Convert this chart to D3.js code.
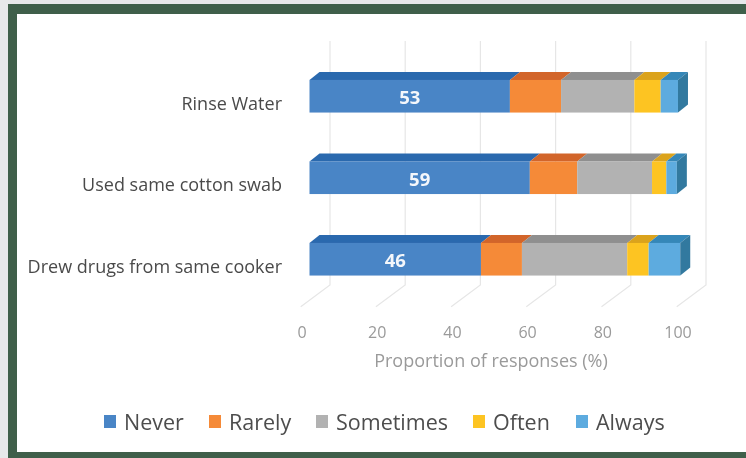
<!DOCTYPE html>
<html>
<head>
<meta charset="utf-8">
<script src="https://cdn.jsdelivr.net/npm/d3@7"></script>
<style>
  html, body { margin: 0; padding: 0; background: #e7e8ea; }
  svg { display: block; }
  text { font-family: "Open Sans", Lato, sans-serif; }
</style>
</head>
<body>
<svg id="chart" width="746" height="458"></svg>
<script>
const categories = ['Rinse Water', 'Used same cotton swab', 'Drew drugs from same cooker'];
const responses = ['Never', 'Rarely', 'Sometimes', 'Often', 'Always'];
const never = [53.3, 58.6, 45.6];
const rarely = [13.6, 12.6, 10.9];
const sometimes = [19.5, 19.9, 28.0];
const often = [7.0, 3.8, 5.7];
const always = [4.6, 2.8, 8.4];
const xTicks = [0, 20, 40, 60, 80, 100];

const frontColors = ['#4a85c6', '#f58a38', '#b2b2b2', '#fdc423', '#5dabdf'];
const topColors = ['#2c69ae', '#d2652a', '#8f8f8f', '#dba31c', '#3587b8'];
const sideColor = '#33799f';

const rows = categories.map((c, i) => ({
  category: c,
  values: [never[i], rarely[i], sometimes[i], often[i], always[i]]
}));

const svg = d3.select('#chart');

// picture frame, open on the right where the source is cropped
svg.append('rect').attr('x', 8).attr('y', 4).attr('width', 738).attr('height', 454).attr('fill', '#3f5f4a');
svg.append('rect').attr('x', 17).attr('y', 14).attr('width', 729).attr('height', 438).attr('fill', '#ffffff');

// the source is a soft, upscaled image
const defs = svg.append('defs');
defs.append('filter').attr('id', 'soft')
  .append('feGaussianBlur').attr('stdDeviation', 0.7);

const g = svg.append('g').attr('filter', 'url(#soft)');

const xScale = d3.scaleLinear().domain([0, 100]).range([309.5, 685.5]);
const yScale = d3.scaleBand().domain(categories).range([55.5, 300]).paddingInner(0.6).paddingOuter(0.3);

// pseudo 3d offsets
const barDx = 10, barDy = -8;
const wallDx = 20.5, wallFloorY = 285, wallTopY = 41;
const floorDx = -29.3, floorDy = 21.7;

const grid = g.append('g');
xTicks.forEach(t => {
  const x = xScale(t) + wallDx;
  grid.append('path')
    .attr('d', `M${x},${wallTopY}V${wallFloorY}l${floorDx},${floorDy}`)
    .attr('fill', 'none')
    .attr('stroke', '#e6e6e6')
    .attr('stroke-width', 1.2);
});

rows.forEach(row => {
  const y0 = yScale(row.category);
  const h = yScale.bandwidth();
  const starts = d3.cumsum(row.values);
  const bar = g.append('g');
  row.values.forEach((v, i) => {
    const xa = xScale(starts[i] - v);
    const xb = xScale(starts[i]);
    bar.append('path')
      .attr('d', `M${xa},${y0}l${barDx},${barDy}H${xb + barDx}L${xb},${y0}Z`)
      .attr('fill', topColors[i]);
    bar.append('rect')
      .attr('x', xa).attr('y', y0)
      .attr('width', xb - xa).attr('height', h)
      .attr('fill', frontColors[i]);
  });
  const xEnd = xScale(starts[starts.length - 1]);
  bar.append('path')
    .attr('d', `M${xEnd},${y0}l${barDx},${barDy}v${h}l${-barDx},${-barDy}Z`)
    .attr('fill', sideColor);
  bar.append('text')
    .attr('x', xScale(row.values[0] / 2))
    .attr('y', y0 + h / 2 + 7.8)
    .attr('text-anchor', 'middle')
    .attr('fill', '#f4f7fb')
    .attr('font-size', 18.5)
    .attr('font-weight', 700)
    .text(Math.round(row.values[0]));

  g.append('text')
    .attr('x', 282)
    .attr('y', y0 + h / 2 + 13.5)
    .attr('text-anchor', 'end')
    .attr('fill', '#4a4a4a')
    .attr('font-size', 18)
    .text(row.category);
});

// tick labels
g.append('g').selectAll('text').data(xTicks).join('text')
  .attr('x', d => xScale(d) - 7.5)
  .attr('y', 338)
  .attr('text-anchor', 'middle')
  .attr('fill', '#9a9a9a')
  .attr('font-size', 16)
  .text(d => d);

g.append('text')
  .attr('x', 491)
  .attr('y', 367)
  .attr('text-anchor', 'middle')
  .attr('fill', '#9a9a9a')
  .attr('font-size', 18)
  .text('Proportion of responses (%)');

// legend
const legendX = [104, 209, 316, 473, 576];
const legend = g.append('g').selectAll('g').data(responses).join('g')
  .attr('transform', (d, i) => `translate(${legendX[i]},415)`);
legend.append('rect')
  .attr('width', 12).attr('height', 13)
  .attr('fill', (d, i) => frontColors[i]);
legend.append('text')
  .attr('x', 20).attr('y', 14.5)
  .attr('fill', '#4d4d4d')
  .attr('font-size', 21.5)
  .text(d => d);
</script>
</body>
</html>
